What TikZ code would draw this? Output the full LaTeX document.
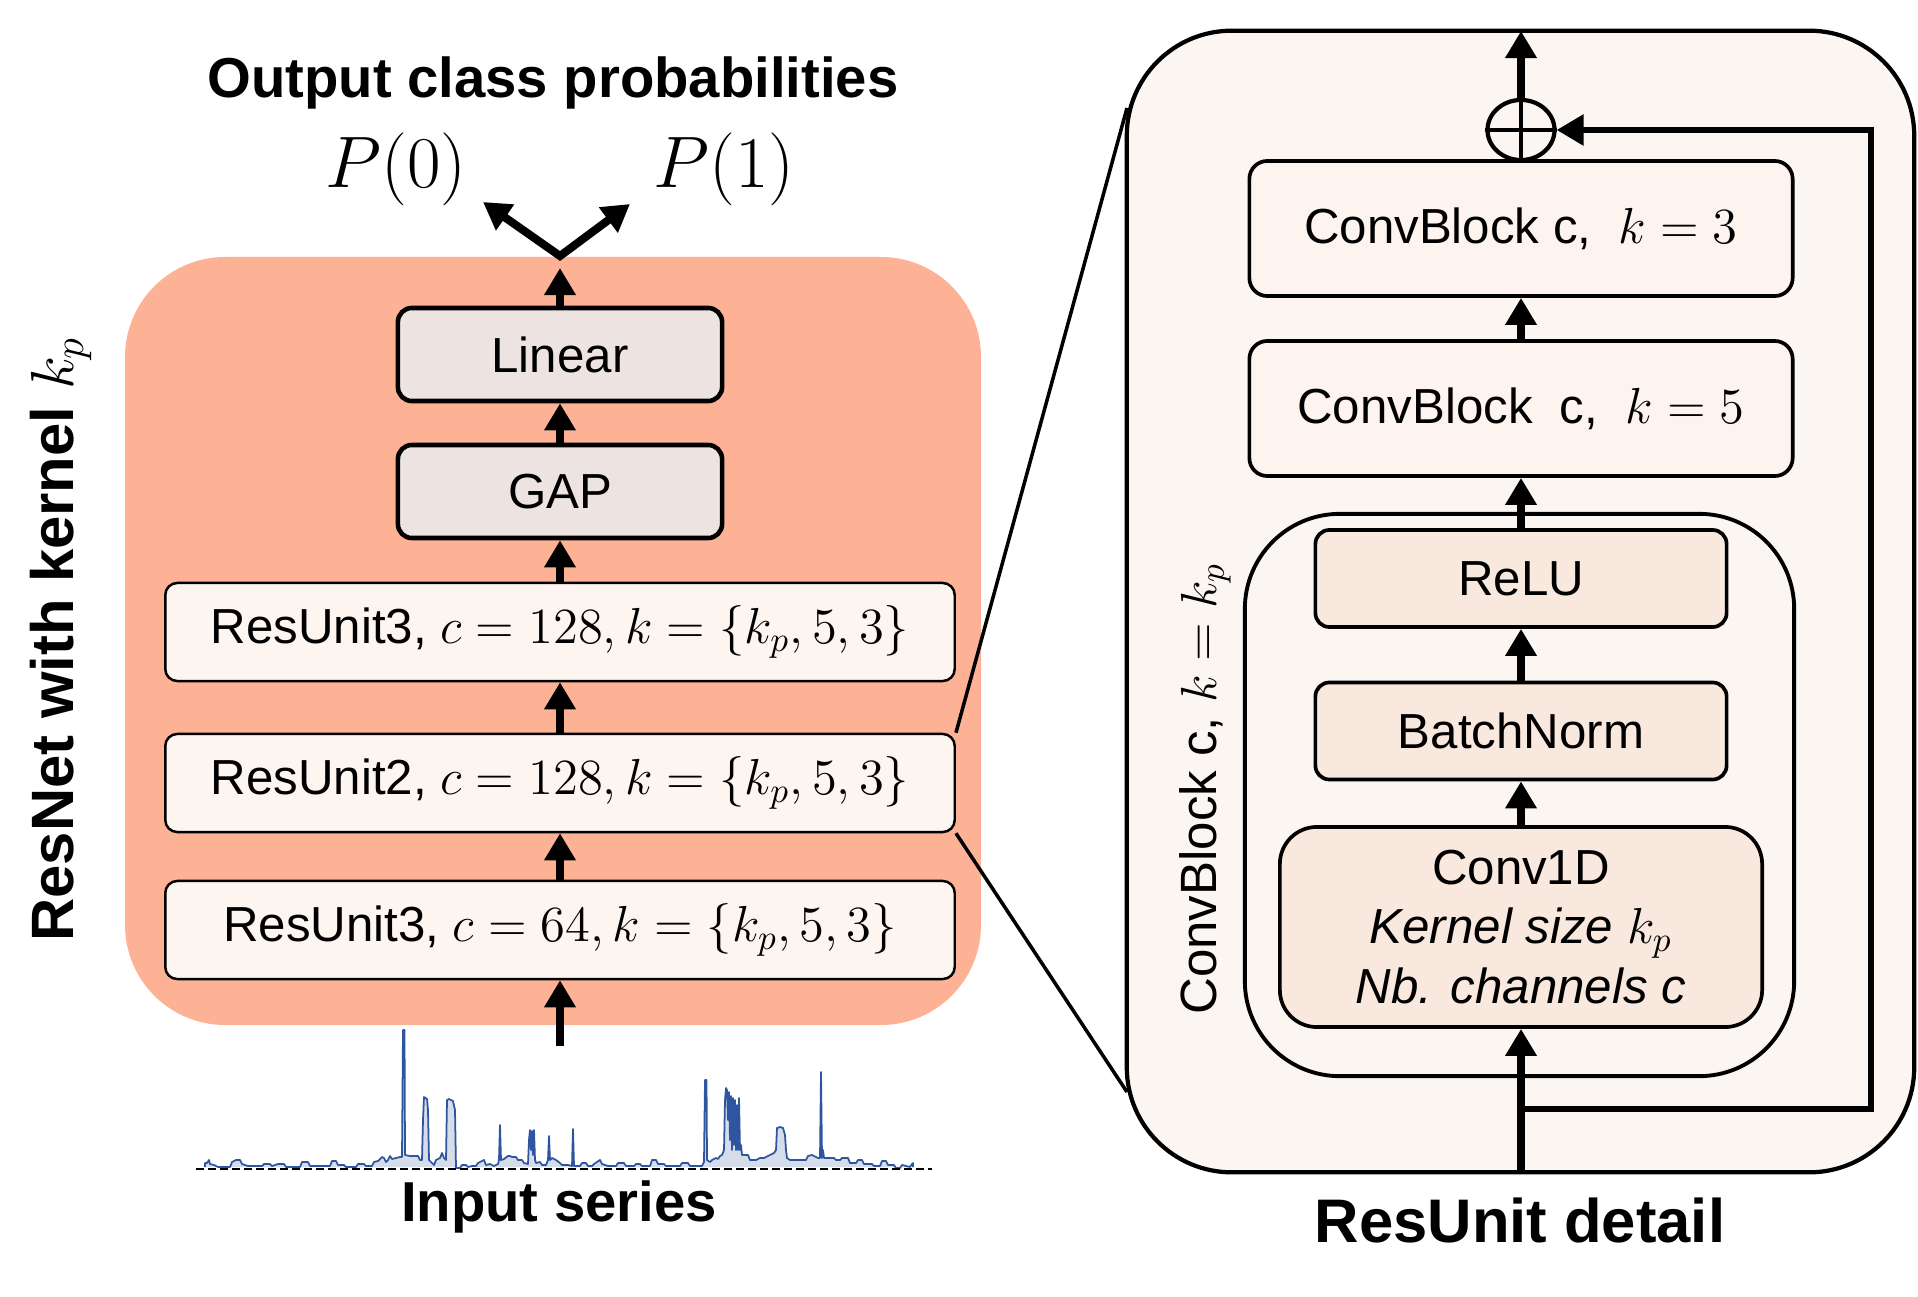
\documentclass[tikz,border=0pt]{standalone}
\usepackage{fontspec}
\setmainfont{Liberation Sans}
\usetikzlibrary{arrows.meta,shapes.geometric}

\definecolor{salmon}{RGB}{253,178,150}
\definecolor{greybox}{RGB}{237,228,226}
\definecolor{creambox}{RGB}{252,245,240}
\definecolor{panelfill}{RGB}{252,246,242}
\definecolor{cbfill}{RGB}{253,243,239}
\definecolor{peach}{RGB}{248,232,222}
\definecolor{serline}{RGB}{47,85,160}
\definecolor{serfill}{RGB}{213,221,235}

\tikzset{
 fs/.style={font=\fontsize{14}{17}\selectfont},
 greyblk/.style={draw, line width=1.3pt, fill=greybox, rounded corners=0.14cm, minimum width=3.24cm, minimum height=0.93cm, fs},
 resblk/.style={draw, line width=0.7pt, fill=creambox, rounded corners=0.12cm, minimum width=7.89cm, minimum height=0.98cm, fs},
 cbblk/.style={draw, line width=1.05pt, fill=cbfill, rounded corners=0.18cm, minimum width=5.43cm, minimum height=1.35cm, fs},
 inblk/.style={draw, line width=1.05pt, fill=peach, rounded corners=0.14cm, minimum width=4.11cm, minimum height=0.97cm, fs},
 tip/.tip={Triangle[width=0.3cm,length=0.27cm]},
 flow/.style={line width=2.5pt, -tip},
 titletext/.style={font=\fontsize{16}{19}\selectfont\bfseries},
}

\begin{document}
\begin{tikzpicture}[x=0.01cm,y=-0.01cm]
\useasboundingbox (0,0) rectangle (1918,1297);

% ---------------- left panel ----------------
\path[fill=salmon, rounded corners=1cm] (125,257) rectangle (981,1025);

\node[titletext] (outtitle) at (553,83) {Output class probabilities};
\node[font=\fontsize{21}{25}\selectfont] (p0) at (396,169) {$P(0)$};
\node[font=\fontsize{21}{25}\selectfont] (p1) at (724,169) {$P(1)$};

\node[greyblk] (lin) at (560,354.5) {Linear};
\node[greyblk] (gap) at (560,491.5) {GAP};
\node[resblk] (ru3a) at (560,632) {ResUnit3, $c = 128, k = \{k_p, 5, 3\}$};
\node[resblk] (ru2) at (560,783) {ResUnit2, $c = 128, k = \{k_p, 5, 3\}$};
\node[resblk] (ru3b) at (560,930) {ResUnit3, $c = 64, k = \{k_p, 5, 3\}$};

\coordinate (apex) at (560,256);
\coordinate (p0tip) at (483,202);
\coordinate (p1tip) at (630,204);
\coordinate (inp) at (560,1046);

\draw[flow] (lin.north) -- ([yshift=-0.12cm]apex);
\draw[line width=2.3pt, tip-tip] (p0tip) -- (apex) -- (p1tip);
\draw[flow] (gap.north) -- (lin.south);
\draw[flow] (ru3a.north) -- (gap.south);
\draw[flow] (ru2.north) -- (ru3a.south);
\draw[flow] (ru3b.north) -- (ru2.south);
\draw[flow] (inp) -- (ru3b.south);

\node[rotate=90, font=\fontsize{17}{20}\selectfont\bfseries] (resnetlabel) at (61,639) {ResNet with kernel $k_p$};

% input series
\draw[serline, line width=0.5pt, line join=round, preaction={fill=serfill}] plot coordinates {
(205,1167)(205,1163)(207,1163)(209,1160)(210,1164)(214,1165)(218,1167)(230,1167)(232,1162)(236,1160)(240,1160)(242,1164)(248,1166)(262,1166)(264,1164)(270,1164)(272,1166)(278,1164)(284,1164)(286,1167)(300,1167)(302,1162)(308,1162)(310,1166)(330,1166)(332,1161)(336,1161)(338,1165)(344,1165)(346,1167)(356,1167)(358,1164)(364,1164)(366,1166)(372,1166)(374,1162)(378,1161)(380,1159)(382,1157)(384,1158)(386,1162)(388,1160)(390,1156)(392,1159)(396,1158)(400,1157)(402,1157)(403,1030)(404.5,1030)(405,1155)(410,1156)(418,1156)(420,1160)(422,1160)(423,1120)(424,1097)(427,1099)(428,1110)(429,1160)(432,1163)(434,1165)(436,1160)(440,1158)(442,1153)(444,1158)(446,1160)(447,1100)(449,1099)(453,1101)(455,1110)(456,1168)(460,1168)(462,1165)(466,1165)(468,1167)(472,1166)(476,1166)(478,1163)(484,1160)(486,1165)(490,1164)(494,1166)(498,1164)(499,1160)(500,1125)(501,1160)(504,1159)(508,1156)(510,1156)(512,1157)(516,1157)(518,1160)(522,1160)(524,1163)(528,1164)(529,1140)(530,1130)(531,1150)(532,1131)(533,1155)(534,1130)(535,1160)(536,1163)(540,1162)(542,1165)(546,1165)(548,1160)(549,1136)(550,1160)(552,1158)(556,1160)(560,1163)(562,1165)(568,1165)(572,1166)(573,1129)(574,1166)(580,1166)(582,1163)(586,1163)(588,1166)(592,1166)(594,1164)(600,1160)(602,1164)(608,1166)(616,1166)(618,1163)(624,1163)(626,1166)(634,1166)(636,1164)(640,1164)(642,1166)(650,1166)(652,1160)(656,1160)(658,1164)(664,1164)(666,1166)(680,1166)(682,1163)(688,1163)(690,1166)(702,1166)(704,1162)(705,1080)(706.5,1080)(707,1160)(710,1162)(712,1160)(716,1158)(718,1159)(720,1156)(722,1155)(724,1150)(725,1100)(726,1088)(727,1090)(728,1120)(729,1092)(730,1140)(731,1096)(732,1150)(733,1098)(734,1145)(735,1100)(736,1150)(737,1105)(738,1150)(739,1098)(740,1150)(741,1145)(742,1155)(744,1155)(748,1155)(750,1160)(756,1160)(760,1158)(764,1158)(766,1157)(770,1155)(774,1153)(776,1150)(777,1128)(780,1127)(783,1128)(785,1135)(786,1150)(787,1158)(790,1160)(800,1160)(806,1160)(808,1156)(812,1155)(816,1157)(818,1158)(820,1158)(821,1072)(822,1158)(823,1150)(824,1158)(826,1158)(834,1158)(836,1160)(840,1160)(842,1158)(848,1158)(850,1163)(856,1163)(858,1160)(862,1160)(864,1164)(872,1164)(874,1166)(880,1166)(882,1161)(886,1161)(888,1165)(894,1165)(896,1168)(900,1168)(902,1165)(906,1166)(910,1167)(912,1164)(913,1163)(913,1167)};
\coordinate (baseL) at (196,1169);
\coordinate (baseR) at (932,1169);
\draw[dash pattern=on 0.08cm off 0.04cm, line width=0.6pt] (baseL) -- (baseR);
\node[titletext] (inlabel) at (559,1207) {Input series};

% ---------------- right panel ----------------
\coordinate (zt) at (1127,108);
\coordinate (zb) at (1127,1092);
\draw[line width=1pt] (ru2.north east) -- (zt);
\draw[line width=1pt] (ru2.south east) -- (zb);

\node[draw, line width=1.2pt, fill=panelfill, rounded corners=1.05cm, minimum width=7.87cm, minimum height=11.41cm] (panel) at (1520.5,601.5) {};

\node[cbblk] (cb3) at (1521,228.5) {ConvBlock c,~~$k = 3$};
\node[cbblk] (cb5) at (1521,408.5) {ConvBlock~~c,~~$k = 5$};

\node[draw, line width=1.1pt, fill=panelfill, rounded corners=0.95cm, minimum width=5.49cm, minimum height=5.62cm] (inner) at (1519.5,795) {};

\node[inblk] (relu) at (1521,578.5) {ReLU};
\node[inblk] (bn) at (1521,731) {BatchNorm};
\node[draw, line width=1.05pt, fill=peach, rounded corners=0.37cm, minimum width=4.82cm, minimum height=2cm, align=center, fs] (conv) at (1521,927) {Conv1D\\\textit{Kernel size} $k_p$\\\textit{Nb. channels c}};

\node[rotate=90, font=\fontsize{14.5}{17}\selectfont] (cblabel) at (1205,789) {ConvBlock c, $k = k_p$};

\node[draw, ellipse, line width=1.2pt, fill=panelfill, minimum width=0.67cm, minimum height=0.6cm, inner sep=0pt] (plus) at (1521,130) {};
\draw[line width=1.2pt] (plus.north) -- (plus.south) (plus.west) -- (plus.east);

\coordinate (rin) at (1521,1172);
\coordinate (rout) at (1521,31);
\coordinate (skipstart) at (1521,1109);
\coordinate (skipcorner) at (1871,1109);

\draw[line width=1.7pt, -tip] (skipstart) -- (skipcorner) |- (plus.east);
\draw[flow] (rin) -- (conv.south);
\draw[flow] (conv.north) -- (bn.south);
\draw[flow] (bn.north) -- (relu.south);
\draw[flow] (relu.north) -- (cb5.south);
\draw[flow] (cb5.north) -- (cb3.south);
\draw[line width=2.5pt] (cb3.north) -- (plus.south);
\draw[flow] (plus.north) -- (rout);

\node[font=\fontsize{17.5}{21}\selectfont\bfseries] (detlabel) at (1520,1220) {ResUnit detail};
\end{tikzpicture}
\end{document}
